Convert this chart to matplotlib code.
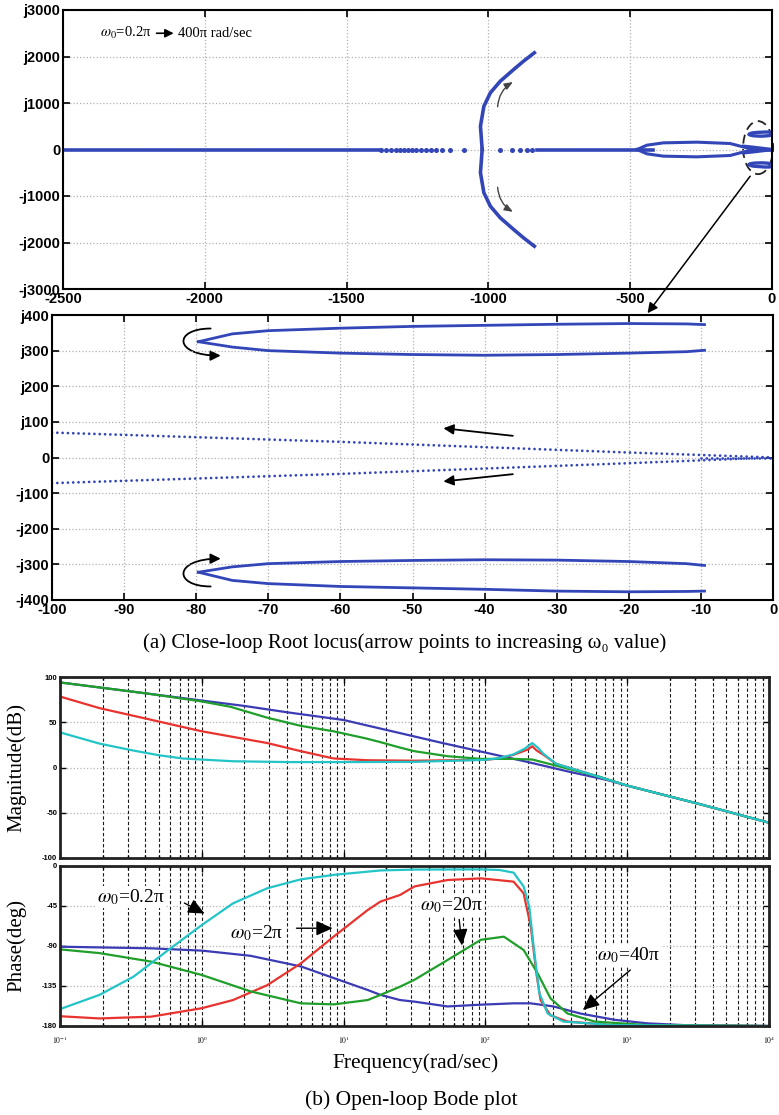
import numpy as np
import matplotlib
matplotlib.use('Agg')
import matplotlib.pyplot as plt
from matplotlib.patches import Ellipse, ConnectionPatch, FancyArrowPatch
from matplotlib.path import Path
from matplotlib.ticker import FixedLocator, LogLocator, NullFormatter

plt.rcParams['mathtext.fontset'] = 'stix'
plt.rcParams['axes.unicode_minus'] = False
SERIF = ['Liberation Serif', 'DejaVu Serif']
SANS = ['Liberation Sans', 'DejaVu Sans']
BLUE_RL = '#3346b8'

# ---------------- root locus, full view ----------------
rl_xticks = [-2500, -2000, -1500, -1000, -500, 0]
rl_yticks = [3000, 2000, 1000, 0, -1000, -2000, -3000]
rl_ylabels = ['j3000', 'j2000', 'j1000', '0', '-j1000', '-j2000', '-j3000']

real_far = [-2500, -1380]
real_dots_left = [-1380, -1362, -1345, -1327, -1313, -1298, -1283, -1268,
                  -1254, -1239, -1221, -1204, -1186, -1163, -1134, -1087]
real_dots_right = [-958, -917, -887, -864, -846]
real_near = [-830, -420]
branch_x = [-1022, -1028, -1016, -993, -958, -911, -876, -838]
branch_y = [0, 500, 930, 1220, 1470, 1720, 1900, 2080]
loop_x = [-476, -441, -383, -265, -148, -89, -65]
loop_y = [0, 93, 143, 158, 129, 36, 0]
real_origin = [-65, 0]

# ---------------- root locus, zoom near origin ----------------
zm_xticks = [-100, -90, -80, -70, -60, -50, -40, -30, -20, -10, 0]
zm_yticks = [400, 300, 200, 100, 0, -100, -200, -300, -400]
zm_ylabels = ['j400', 'j300', 'j200', 'j100', '0', '-j100', '-j200', '-j300', '-j400']

cp_x = [-79.7, -75, -70, -60, -50, -40, -30, -20, -12, -9.5]
cp_up_outer = [325, 347, 356, 363, 368, 371, 374, 376, 375, 373]
cp_up_inner = [325, 310, 300, 293, 289, 287, 289, 293, 297, 301]
cp_lo_outer = [-322, -345, -354, -362, -366, -370, -375, -377, -376, -375]
cp_lo_inner = [-322, -307, -298, -292, -289, -287, -288, -292, -298, -303]

slow_x = [-100, -80, -60, -40, -20, -10, 0]
slow_up = [70, 57, 44, 29, 14, 7, 0]
slow_lo = [-72, -59, -46, -31, -16, -8, 0]

# ---------------- Bode data ----------------
w_blue_m = [0.1, 0.2, 0.4, 1, 2, 4, 10, 18.2, 25, 50, 100, 200, 398, 708, 1000, 3162, 10000]
m_blue = [94, 88, 82, 74, 68, 61, 52.5, 43, 38, 27, 16.5, 6, -5, -13.5, -20, -40, -61]

w_green_m = [0.1, 0.2, 0.4, 1, 1.6, 2.9, 5, 8.5, 14.5, 18.2, 25, 31.6, 54, 93, 158, 214,
             282, 398, 631, 1000, 3162, 10000]
m_green = [94, 88, 82, 73, 67, 55, 46, 40, 32, 28, 22, 18, 12.5, 9.5, 9.5, 8.8,
           4, -2, -10, -20, -40, -61]

w_red_m = [0.1, 0.19, 0.44, 1, 2.9, 5, 8.5, 14.8, 31.6, 100, 126, 158, 200, 214, 229,
           257, 316, 468, 1000, 3162, 10000]
m_red = [78.4, 65.6, 52.7, 40, 27, 18, 10, 8, 7.5, 8.5, 10, 14, 20, 23.5, 19,
         14, 4, -4, -20, -40, -61]

w_cyan_m = [0.1, 0.19, 0.33, 0.5, 0.74, 1.66, 4, 10, 31.6, 100, 126, 158, 190, 214, 234,
            257, 316, 468, 1000, 3162, 10000]
m_cyan = [38.8, 26.4, 18.7, 13.5, 9.9, 6.9, 6, 6, 6.2, 8.5, 10.5, 14.5, 21, 27, 22,
          15, 4, -4, -20, -40, -61]

w_cyan_p = [0.1, 0.19, 0.33, 0.56, 1, 1.66, 2.9, 5, 8.5, 18.2, 31.6, 93, 126, 158, 186,
            204, 219, 240, 275, 355, 794, 10000]
p_cyan = [-161, -145, -124.5, -96.4, -66.4, -42, -25, -15, -10, -5, -4, -3.8, -4.5, -7.5, -23,
          -46, -91, -143, -166, -175, -179, -180]

w_red_p = [0.1, 0.19, 0.44, 1, 1.66, 2.9, 5, 8.5, 14.8, 18.2, 25, 31.6, 54, 93, 158, 186,
           209, 229, 245, 288, 380, 794, 10000]
p_red = [-169, -171.5, -169.5, -160, -150.8, -134, -109.5, -79.5, -49.5, -40, -32.6, -23,
         -15.8, -13.9, -17.6, -30.8, -68, -121, -151, -168, -175, -179, -180]

w_green_p = [0.1, 0.19, 0.44, 1, 2.2, 5, 8.5, 14.8, 18.2, 25, 31.6, 54, 93, 135, 186,
             234, 288, 380, 589, 1380, 10000]
p_green = [-93.8, -98, -107.6, -122.6, -141, -154.5, -155.7, -150.8, -145, -135.8, -128,
           -105.8, -83, -79.5, -94.5, -121, -149, -166, -175, -179, -180]

w_blue_p = [0.1, 0.44, 1, 2.2, 5, 8.5, 14.8, 18.2, 25, 31.6, 54, 93, 158, 209, 302, 468,
            813, 1380, 2512, 10000]
p_blue = [-90.8, -92.6, -95.2, -101, -113, -126, -139.5, -145, -150.8, -152.6, -158, -156,
          -154.5, -154.5, -158, -166, -173, -177, -179, -180]

bode_series = [
    ('#3b3bb4', w_blue_m, m_blue, w_blue_p, p_blue),
    ('#e8332e', w_red_m, m_red, w_red_p, p_red),
    ('#1f9f2a', w_green_m, m_green, w_green_p, p_green),
    ('#23c4c8', w_cyan_m, m_cyan, w_cyan_p, p_cyan),
]
bode_xticks = [0.1, 1, 10, 100, 1000, 10000]
bode_xlabels = [r'$10^{-1}$', r'$10^{0}$', r'$10^{1}$', r'$10^{2}$', r'$10^{3}$', r'$10^{4}$']

fig = plt.figure(figsize=(7.79, 11.15), dpi=100)
W, H = 779.0, 1115.0


def add_ax(l, t, r, b):
    return fig.add_axes([l / W, 1 - b / H, (r - l) / W, (b - t) / H])


def style_rl(ax, xt, yt, ylab):
    ax.set_xticks(xt)
    ax.set_yticks(yt)
    ax.set_yticklabels(ylab)
    ax.grid(True, color='#b0b0b0', linestyle=':', linewidth=0.9)
    ax.tick_params(direction='in', top=True, right=True, length=5, width=1.2, pad=2)
    for lab in ax.get_xticklabels() + ax.get_yticklabels():
        lab.set_fontfamily(SANS)
        lab.set_fontweight('bold')
        lab.set_fontsize(10.5)
    for s in ax.spines.values():
        s.set_linewidth(1.5)


def c_arrow(ax, start, end, bulge_x):
    # C-shaped arrow curling round the left-hand tip of a loop
    verts = [start, (bulge_x, start[1]), (bulge_x, end[1]), end]
    codes = [Path.MOVETO, Path.CURVE4, Path.CURVE4, Path.CURVE4]
    arr = FancyArrowPatch(path=Path(verts, codes), transform=ax.transData,
                          arrowstyle='-|>,head_length=6,head_width=3', color='black', lw=1.3)
    ax.add_patch(arr)


# ---- full root locus ----
ax1 = add_ax(63, 10, 772, 289)
ax1.set_xlim(-2500, 0)
ax1.set_ylim(-3000, 3000)
style_rl(ax1, rl_xticks, rl_yticks, rl_ylabels)
ax1.plot(real_far, [0, 0], color=BLUE_RL, lw=2.6, solid_capstyle='round')
ax1.plot(real_dots_left, np.zeros(len(real_dots_left)), 'o', color=BLUE_RL, ms=2.6)
ax1.plot(real_dots_right, np.zeros(len(real_dots_right)), 'o', color=BLUE_RL, ms=2.6)
ax1.plot(real_near, [0, 0], color=BLUE_RL, lw=2.6)
ax1.plot(real_origin, [0, 0], color=BLUE_RL, lw=2.6)
ax1.plot(branch_x, branch_y, color=BLUE_RL, lw=2.6)
ax1.plot(branch_x, -np.array(branch_y), color=BLUE_RL, lw=2.6)
ax1.plot(loop_x, loop_y, color=BLUE_RL, lw=2.2)
ax1.plot(loop_x, -np.array(loop_y), color=BLUE_RL, lw=2.2)
for ys in (cp_up_outer, cp_up_inner, cp_lo_outer, cp_lo_inner):
    ax1.plot(cp_x, ys, color=BLUE_RL, lw=2.4)
ax1.plot(slow_x, slow_up, color=BLUE_RL, lw=2.4)
ax1.plot(slow_x, slow_lo, color=BLUE_RL, lw=2.4)
ax1.add_patch(Ellipse((-49, 40), 106, 1140, fill=False, ls=(0, (5, 3)),
                      lw=1.3, color='#222222', clip_on=False))
ax1.annotate('', xy=(-905, 1480), xytext=(-968, 860),
             arrowprops=dict(arrowstyle='-|>,head_length=0.5,head_width=0.2', color='#444444',
                             lw=1, connectionstyle='arc3,rad=-0.3'))
ax1.annotate('', xy=(-905, -1370), xytext=(-968, -752),
             arrowprops=dict(arrowstyle='-|>,head_length=0.5,head_width=0.2', color='#444444',
                             lw=1, connectionstyle='arc3,rad=0.3'))
ax1.text(-2370, 2500, r'$\omega_0$=0.2π', family=SERIF, fontsize=10.5, va='center')
ax1.annotate('', xy=(-2100, 2500), xytext=(-2180, 2500),
             arrowprops=dict(arrowstyle='-|>,head_length=0.5,head_width=0.25', color='black', lw=1.2))
ax1.text(-2095, 2500, '400π rad/sec', family=SERIF, fontsize=10.5, va='center')

# ---- zoomed root locus ----
ax2 = add_ax(52, 315, 773, 600)
ax2.set_xlim(-100, 0)
ax2.set_ylim(-400, 400)
style_rl(ax2, zm_xticks, zm_yticks, zm_ylabels)
for ys in (cp_up_outer, cp_up_inner, cp_lo_outer, cp_lo_inner):
    ax2.plot(cp_x, ys, color=BLUE_RL, lw=2.0)
dot_style = dict(color=BLUE_RL, lw=2.0, linestyle=(0, (0.01, 1.9)), dash_capstyle='round')
ax2.plot(slow_x, slow_up, **dot_style)
ax2.plot(slow_x, slow_lo, **dot_style)
ax2.plot([-10, 0], [0, 0], **dot_style)

c_arrow(ax2, (-78.0, 362), (-76.6, 286), -83.2)
c_arrow(ax2, (-78.0, -362), (-76.6, -284), -83.2)

arc_kw = dict(arrowstyle='-|>,head_length=0.6,head_width=0.3', color='black', lw=1.3)
ax2.annotate('', xy=(-46.1, 83), xytext=(-35.7, 60), arrowprops=arc_kw)
ax2.annotate('', xy=(-46.1, -68), xytext=(-35.7, -46), arrowprops=arc_kw)

con = ConnectionPatch(xyA=(-77, -574), coordsA=ax1.transData,
                      xyB=(-17.4, 405), coordsB=ax2.transData,
                      arrowstyle='-|>,head_length=0.6,head_width=0.3', color='black',
                      lw=1.1, mutation_scale=10)
fig.add_artist(con)

fig.text(405 / W, 1 - 643 / H, '(a) Close-loop Root locus(arrow points to increasing ω₀ value)',
         family=SERIF, fontsize=15, ha='center', va='center')

# ---- Bode plot ----
ax3 = add_ax(60, 677, 769, 858)
ax4 = add_ax(60, 866, 769, 1026)
for ax in (ax3, ax4):
    ax.set_xscale('log')
    ax.set_xlim(0.1, 10000)
    ax.xaxis.set_major_locator(FixedLocator(bode_xticks))
    ax.xaxis.set_minor_locator(LogLocator(base=10, subs=range(2, 10), numticks=20))
    ax.xaxis.set_minor_formatter(NullFormatter())
    ax.grid(True, which='both', axis='x', color='#1a1a1a', linestyle=(0, (3, 2)), linewidth=0.8)
    ax.grid(True, which='major', axis='y', color='#b5b5b5', linestyle=':', linewidth=0.9)
    ax.tick_params(which='both', direction='in', top=True, right=True, width=1.0)
    ax.tick_params(which='major', length=4)
    ax.tick_params(which='minor', length=2.5)
    ax.tick_params(axis='y', pad=2)
    ax.tick_params(axis='x', pad=6)
    for s in ax.spines.values():
        s.set_linewidth(2.0)
        s.set_color('#222222')

ax3.set_ylim(-100, 100)
ax3.set_yticks([-100, -50, 0, 50, 100])
ax3.set_xticklabels([])
ax4.set_ylim(-180, 0)
ax4.set_yticks([-180, -135, -90, -45, 0])
ax4.set_xticklabels(bode_xlabels)
for ax in (ax3, ax4):
    for lab in ax.get_yticklabels() + ax.get_xticklabels():
        lab.set_fontfamily(SANS)
        lab.set_fontsize(5.5)
        lab.set_fontweight('bold')

for color, wm, m, wp, p in bode_series:
    ax3.plot(wm, m, color=color, lw=1.6)
    ax4.plot(wp, p, color=color, lw=1.6)

ax3.set_ylabel('Magnitude(dB)', family=SERIF, fontsize=15)
ax3.yaxis.set_label_coords(-0.048, 0.5)
ax4.set_ylabel('Phase(deg)', family=SERIF, fontsize=15)
ax4.yaxis.set_label_coords(-0.048, 0.5)

lbl_kw = dict(family=SERIF, fontsize=14, va='center',
              bbox=dict(fc='white', ec='none', pad=0.5))
big_head = dict(arrowstyle='-|>,head_length=1.0,head_width=0.45', color='black', lw=1.0)
ax4.text(0.182, -34.9, r'$\omega_0$=0.2π', **lbl_kw)
ax4.annotate('', xy=(1.09, -55), xytext=(0.724, -40.2), arrowprops=big_head)
ax4.text(1.59, -75, r'$\omega_0$=2π', **lbl_kw)
ax4.annotate('', xy=(8.75, -70), xytext=(4.45, -70), arrowprops=big_head)
ax4.text(34.8, -43.9, r'$\omega_0$=20π', **lbl_kw)
ax4.annotate('', xy=(68.7, -92.6), xytext=(65, -57), arrowprops=big_head)
ax4.text(617, -100, r'$\omega_0$=40π', **lbl_kw)
ax4.annotate('', xy=(470, -164), xytext=(1089, -115), arrowprops=big_head)

fig.text(416 / W, 1 - 1063 / H, 'Frequency(rad/sec)', family=SERIF, fontsize=15.5,
         ha='center', va='center')
fig.text(411 / W, 1 - 1100 / H, '(b) Open-loop Bode plot', family=SERIF, fontsize=15.5,
         ha='center', va='center')

fig.savefig('out.png', dpi=100)
